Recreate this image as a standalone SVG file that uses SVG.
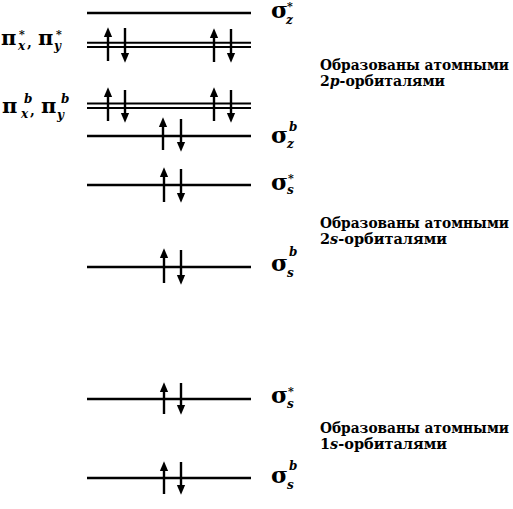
<svg xmlns="http://www.w3.org/2000/svg" width="513" height="509" viewBox="0 0 513 509">
<style>
.lvl{stroke:#000;stroke-width:2.6;fill:none}
.dbl{stroke:#000;stroke-width:2;fill:none}
.arr{stroke:#000;stroke-width:2.4;fill:none;marker-end:url(#head)}
.lab{font-family:"DejaVu Serif",serif;font-weight:bold;fill:#000}
.sym{font-size:23px;font-style:normal}
.pi{font-size:21px;font-style:normal}
.sub{font-style:italic;font-size:12px}
.star{font-size:11px;font-style:normal}
.cm{font-size:14px;font-style:normal}
.note{font-family:"DejaVu Serif",serif;font-weight:bold;font-size:14.5px;fill:#000}
.it{font-style:italic}
</style>
<defs>
<marker id="head" markerUnits="userSpaceOnUse" markerWidth="10" markerHeight="10" viewBox="0 -4 9 8" refX="2" refY="0" orient="auto">
<path d="M0,-3.8 L9,0 L0,3.8 Z" fill="#000"/>
</marker>
</defs>
<rect width="513" height="509" fill="#fff"/>

<g id="sigma-z-star">
<line class="lvl" x1="87" y1="13" x2="251" y2="13"/>
<text class="lab"><tspan class="sym" x="271" y="18">σ</tspan><tspan class="star" x="287" y="10">*</tspan><tspan class="sub" x="286" y="24">z</tspan></text>
</g>

<g id="pi-star">
<line class="dbl" x1="87" y1="42.7" x2="251" y2="42.7"/>
<line class="dbl" x1="87" y1="46.9" x2="251" y2="46.9"/>
<text class="lab"><tspan class="pi" x="1" y="45">π</tspan><tspan class="star" x="19" y="38">*</tspan><tspan class="sub" x="18" y="50">x</tspan><tspan class="cm" x="27" y="47">,</tspan><tspan class="pi" x="38" y="45">π</tspan><tspan class="star" x="56" y="38">*</tspan><tspan class="sub" x="54" y="50">y</tspan></text>
</g>

<g id="pi-bonding">
<line class="dbl" x1="87" y1="103.4" x2="251" y2="103.4"/>
<line class="dbl" x1="87" y1="108" x2="251" y2="108"/>
<text class="lab"><tspan class="pi" x="2" y="113">π</tspan><tspan class="sub" x="24" y="103">b</tspan><tspan class="sub" x="21" y="118">x</tspan><tspan class="cm" x="30" y="115">,</tspan><tspan class="pi" x="41" y="113">π</tspan><tspan class="sub" x="61" y="103">b</tspan><tspan class="sub" x="57" y="119">y</tspan></text>
</g>

<g id="sigma-z-bonding">
<line class="lvl" x1="87" y1="136" x2="251" y2="136"/>
<text class="lab"><tspan class="sym" x="271" y="143">σ</tspan><tspan class="sub" x="289" y="131">b</tspan><tspan class="sub" x="287" y="148">z</tspan></text>
</g>

<g id="sigma-s2-star">
<line class="lvl" x1="87" y1="185" x2="251" y2="185"/>
<text class="lab"><tspan class="sym" x="271" y="190">σ</tspan><tspan class="star" x="288" y="182">*</tspan><tspan class="sub" x="287" y="194">s</tspan></text>
</g>

<g id="sigma-s2-bonding">
<line class="lvl" x1="87" y1="267" x2="251" y2="267"/>
<text class="lab"><tspan class="sym" x="271" y="271">σ</tspan><tspan class="sub" x="289" y="256">b</tspan><tspan class="sub" x="287" y="277">s</tspan></text>
</g>

<g id="sigma-s1-star">
<line class="lvl" x1="87" y1="399" x2="251" y2="399"/>
<text class="lab"><tspan class="sym" x="271" y="403">σ</tspan><tspan class="star" x="288" y="395">*</tspan><tspan class="sub" x="287" y="408">s</tspan></text>
</g>

<g id="sigma-s1-bonding">
<line class="lvl" x1="87" y1="478" x2="251" y2="478"/>
<text class="lab"><tspan class="sym" x="271" y="483">σ</tspan><tspan class="sub" x="289" y="470">b</tspan><tspan class="sub" x="287" y="489">s</tspan></text>
</g>

<g id="note-2p">
<text class="note" x="320" y="70" textLength="189" lengthAdjust="spacingAndGlyphs">Образованы атомными</text>
<text class="note" x="320" y="86" textLength="125" lengthAdjust="spacingAndGlyphs">2<tspan class="it">p</tspan>-орбиталями</text>
</g>
<g id="note-2s">
<text class="note" x="320" y="228" textLength="189" lengthAdjust="spacingAndGlyphs">Образованы атомными</text>
<text class="note" x="320" y="244" textLength="127" lengthAdjust="spacingAndGlyphs">2<tspan class="it">s</tspan>-орбиталями</text>
</g>
<g id="note-1s">
<text class="note" x="320" y="433" textLength="189" lengthAdjust="spacingAndGlyphs">Образованы атомными</text>
<text class="note" x="320" y="449" textLength="127" lengthAdjust="spacingAndGlyphs">1<tspan class="it">s</tspan>-орбиталями</text>
</g>

<g id="electrons">
<line class="arr" x1="108" y1="61" x2="108" y2="35"/>
<line class="arr" x1="125" y1="28" x2="125" y2="55"/>
<line class="arr" x1="214" y1="62" x2="214" y2="36"/>
<line class="arr" x1="231" y1="29" x2="231" y2="55"/>

<line class="arr" x1="108" y1="121" x2="108" y2="95"/>
<line class="arr" x1="125" y1="90" x2="125" y2="115"/>
<line class="arr" x1="214" y1="121" x2="214" y2="95"/>
<line class="arr" x1="231" y1="90" x2="231" y2="115"/>

<line class="arr" x1="163" y1="150" x2="163" y2="125"/>
<line class="arr" x1="181" y1="119" x2="181" y2="144"/>

<line class="arr" x1="164" y1="202" x2="164" y2="175"/>
<line class="arr" x1="181" y1="169" x2="181" y2="195"/>

<line class="arr" x1="164" y1="283" x2="164" y2="256"/>
<line class="arr" x1="181" y1="250" x2="181" y2="277"/>

<line class="arr" x1="164" y1="414" x2="164" y2="390"/>
<line class="arr" x1="181" y1="383" x2="181" y2="407"/>

<line class="arr" x1="164" y1="494" x2="164" y2="469"/>
<line class="arr" x1="181" y1="462" x2="181" y2="487"/>
</g>
</svg>
